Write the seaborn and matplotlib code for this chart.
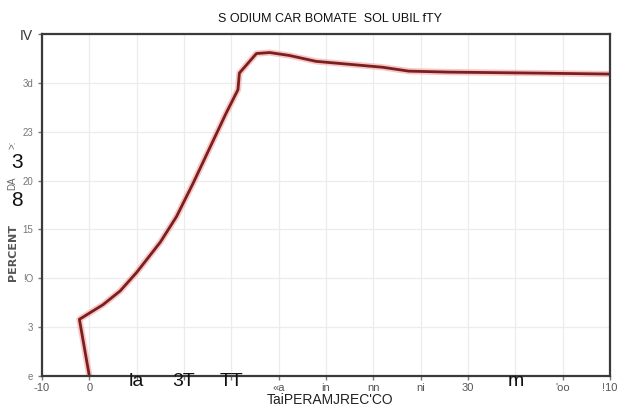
"""Sodium carbonate solubility curve, redrawn from a scanned chart."""

import matplotlib.pyplot as plt
import pandas as pd
import seaborn as sns

# curve (temperature in C, percent Na2CO3 by weight)
temperature_c = [0.0, -2.1, 2.9, 6.5, 10.0, 15.0, 18.4, 21.9, 25.4, 28.9,
                 31.4, 31.7, 35.3, 38.1, 42.3, 47.9, 54.9, 61.9, 67.5, 75.9,
                 94.2, 110.0]
percent_na2co3 = [0.0, 5.8, 7.3, 8.7, 10.6, 13.7, 16.3, 19.7, 23.3, 26.9,
                  29.3, 31.0, 33.0, 33.1, 32.8, 32.2, 31.9, 31.6, 31.2, 31.1,
                  31.0, 30.9]

x_ticks = [-10, 0, 10, 20, 30, 40, 50, 60, 70, 80, 90, 100, 110]
x_tick_labels = ["-10", "0", "la", "3T", "TT", "«a", "in", "nn", "ni", "30",
                 "m", "'oo", "!10"]
big_x_labels = ["la", "3T", "TT", "m"]

y_ticks = [0, 5, 10, 15, 20, 25, 30, 35]
y_tick_labels = ["e", "3", "!O", "15", "20", "23", "3d", "IV"]

title_text = "S ODIUM CAR BOMATE  SOL UBIL fTY"
xlabel_text = "TaiPERAMJREC'CO"

sns.set_theme(style="ticks")
plt.rcParams["font.family"] = ["Liberation Sans", "DejaVu Sans"]

df = pd.DataFrame({"temperature": temperature_c, "percent": percent_na2co3})

W, H = 620, 411
fig = plt.figure(figsize=(W / 100, H / 100), dpi=100)
ax = fig.add_axes([42 / W, 1 - 376 / H, (610 - 42) / W, (376 - 34) / H])

# faint reddish halo from the scan, then the dark trace on top
sns.lineplot(data=df, x="temperature", y="percent", sort=False, estimator=None,
             color="#f2a0a0", linewidth=4.5, alpha=0.6, ax=ax)
sns.lineplot(data=df, x="temperature", y="percent", sort=False, estimator=None,
             color="#7a1e1e", linewidth=2.0, ax=ax)

ax.set_xlim(-10, 110)
ax.set_ylim(0, 35)
ax.set_xticks(x_ticks)
ax.set_yticks(y_ticks)
ax.grid(True, color="#ececec", linewidth=0.9)
ax.set_axisbelow(True)

for side in ["left", "right", "top", "bottom"]:
    ax.spines[side].set_visible(True)
    ax.spines[side].set_color("#3a3a3a")
    ax.spines[side].set_linewidth(1.6)

ax.tick_params(axis="both", length=3, width=1, color="#777777", direction="out")

# x labels drawn by hand so the oversized ones can sit on the axis line
ax.set_xticklabels([])
trans = ax.get_xaxis_transform()
for value, label in zip(x_ticks, x_tick_labels):
    if label in big_x_labels:
        ax.text(value, -0.015, label, transform=trans, ha="center", va="center",
                fontsize=14, color="#111111")
    else:
        ax.text(value, -0.035, label, transform=trans, ha="center", va="center",
                fontsize=8, color="#555555")

ax.set_yticklabels(y_tick_labels, fontsize=7, color="#777777")
top_label = ax.get_yticklabels()[-1]
top_label.set_fontsize(10)
top_label.set_color("#333333")

ax.set_xlabel("")
ax.set_ylabel("")
fig.text(330 / W, 1 - 400 / H, xlabel_text, ha="center", va="center",
         fontsize=10, color="#222222")
fig.text(330 / W, 1 - 19 / H, title_text, ha="center", va="center",
         fontsize=9, color="#111111")

# the smeared y-axis title
fig.text(13 / W, 1 - 252 / H, "PERCENT", rotation=90, ha="center", va="center",
         fontsize=8, fontweight="bold", color="#555555", family=["DejaVu Sans"])
fig.text(12 / W, 1 - 183 / H, "DA", rotation=90, ha="center", va="center",
         fontsize=7, color="#666666")
fig.text(12 / W, 1 - 145 / H, ">:", rotation=90, ha="center", va="center",
         fontsize=7, color="#666666")
fig.text(17 / W, 1 - 162 / H, "3", ha="center", va="center",
         fontsize=15, color="#111111")
fig.text(17 / W, 1 - 201 / H, "8", ha="center", va="center",
         fontsize=15, color="#111111")

fig.savefig("out.png", dpi=100)
